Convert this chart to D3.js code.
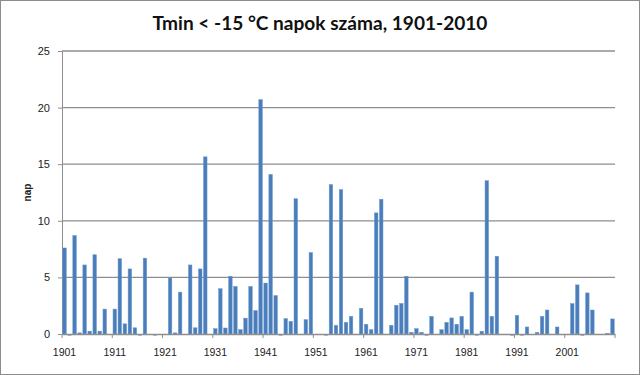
<!DOCTYPE html>
<html>
<head>
<meta charset="utf-8">
<script src="https://cdn.jsdelivr.net/npm/d3@7"></script>
<style>
  body { margin: 0; background: #fff; }
</style>
</head>
<body>
<div id="chart"></div>
<script>
// categories: years 1901-2010
const years = d3.range(1901, 2011);

// number of days with Tmin < -15 °C (null = empty cell, 0 = zero value)
const days = [
  7.6, 0, 8.7, 0.1, 6.1, 0.25, 7.0, 0.25, 2.2, null,        // 1901-1910
  2.2, 6.65, 0.9, 5.75, 0.55, 0, 6.7, null, 0, null,         // 1911-1920
  null, 4.95, 0.1, 3.7, null, 6.1, 0.55, 5.75, 15.65, null,  // 1921-1930
  0.47, 4.0, 0.53, 5.1, 4.2, 0.38, 1.4, 4.2, 2.07, 20.7,     // 1931-1940
  4.5, 14.1, 3.4, 0, 1.36, 1.12, 11.95, null, 1.27, 7.2,     // 1941-1950
  null, null, 0, 13.2, 0.77, 12.75, 1.03, 1.56, null, 2.27,  // 1951-1960
  0.86, 0.38, 10.7, 11.9, null, 0.77, 2.54, 2.7, 5.1, 0.15,  // 1961-1970
  0.47, 0.15, 0, 1.56, null, 0.38, 1.03, 1.42, 0.86, 1.56,   // 1971-1980
  0.38, 3.7, 0, 0.24, 13.54, 1.56, 6.87, null, null, 0,      // 1981-1990
  1.65, 0, 0.62, null, 0.15, 1.56, 2.12, null, 0.62, null,   // 1991-2000
  null, 2.68, 4.34, 0, 3.63, 2.12, null, null, 0.06, 1.33    // 2001-2010
];

const yTicks = [0, 5, 10, 15, 20, 25];
const xTickLabels = ["1901", "1911", "1921", "1931", "1941", "1951", "1961", "1971", "1981", "1991", "2001"];

const titleText = "Tmin < -15 °C napok száma, 1901-2010";
const yTitle = "nap";

const width = 640, height = 375;
const margin = { top: 51, right: 25, bottom: 41, left: 62 };

const svg = d3.select("#chart")
  .append("svg")
  .attr("width", width)
  .attr("height", height)
  .style("font-family", "'Liberation Sans', Arial, sans-serif");

// chart area border
svg.append("rect")
  .attr("x", 0.5).attr("y", 0.5)
  .attr("width", width - 1).attr("height", height - 1)
  .attr("fill", "#fff")
  .attr("stroke", "#8c8c8c");

const x = d3.scaleBand()
  .domain(years)
  .range([margin.left, width - margin.right])
  .paddingInner(0.3)
  .paddingOuter(0.15);

const y = d3.scaleLinear()
  .domain([0, 25])
  .range([height - margin.bottom, margin.top]);

// gridlines
svg.append("g")
  .selectAll("line")
  .data(yTicks.filter(d => d > 0))
  .join("line")
  .attr("x1", margin.left)
  .attr("x2", width - margin.right)
  .attr("y1", d => y(d))
  .attr("y2", d => y(d))
  .attr("stroke", "#8e8e8e")
  .attr("stroke-width", 1.3);

// y axis
const yAxis = svg.append("g")
  .attr("transform", `translate(${margin.left},0)`)
  .call(d3.axisLeft(y).tickValues(yTicks).tickSize(4).tickPadding(8).tickSizeOuter(0));
yAxis.select(".domain").attr("stroke", "#8e8e8e");
yAxis.selectAll(".tick line").attr("stroke", "#8e8e8e");
yAxis.selectAll("text")
  .attr("fill", "#222")
  .style("font-size", "11px");

// bars
const barColor = "#4a7ebb";
svg.append("g")
  .selectAll("rect")
  .data(years.map((yr, i) => ({ year: yr, v: days[i] })).filter(d => d.v !== null))
  .join("rect")
  .attr("x", d => x(d.year))
  .attr("width", x.bandwidth())
  .attr("y", d => d.v > 0 ? y(d.v) : y(0))
  .attr("height", d => d.v > 0 ? y(0) - y(d.v) : 2)
  .attr("fill", d => d.v > 0 ? barColor : "#9fbbe0")
  .attr("stroke", d => d.v > 0 ? "#6d98cf" : "none")
  .attr("stroke-width", 0.5);

// x axis (labels at category centres, tick marks on category boundaries)
const xAxis = svg.append("g")
  .attr("transform", `translate(0,${y(0)})`)
  .call(d3.axisBottom(x).tickValues(xTickLabels.map(Number)).tickSize(0).tickPadding(15));
xAxis.select(".domain").attr("stroke", "#8e8e8e").attr("stroke-width", 1.3);
xAxis.selectAll("text")
  .attr("fill", "#222")
  .style("font-size", "10.5px");

const gap = (x.step() - x.bandwidth()) / 2;
const boundaries = xTickLabels.map(l => x(+l) - gap).concat([width - margin.right]);
svg.append("g")
  .selectAll("line")
  .data(boundaries)
  .join("line")
  .attr("x1", d => d).attr("x2", d => d)
  .attr("y1", y(0)).attr("y2", y(0) + 4)
  .attr("stroke", "#8e8e8e");

// y axis title
svg.append("text")
  .attr("transform", `translate(31,${(margin.top + y(0)) / 2}) rotate(-90)`)
  .attr("text-anchor", "middle")
  .style("font-size", "10px")
  .style("font-weight", "bold")
  .attr("fill", "#222")
  .text(yTitle);

// title, sized to the width seen in the reference
const title = svg.append("text")
  .attr("x", 320)
  .attr("y", 30)
  .attr("text-anchor", "middle")
  .style("font-family", "Lato, 'Open Sans', sans-serif")
  .style("font-weight", "bold")
  .style("font-size", "18px")
  .attr("fill", "#111")
  .text(titleText);
const tw = title.node().getComputedTextLength();
title.style("font-size", (18 * 335 / tw).toFixed(2) + "px");
</script>
</body>
</html>
